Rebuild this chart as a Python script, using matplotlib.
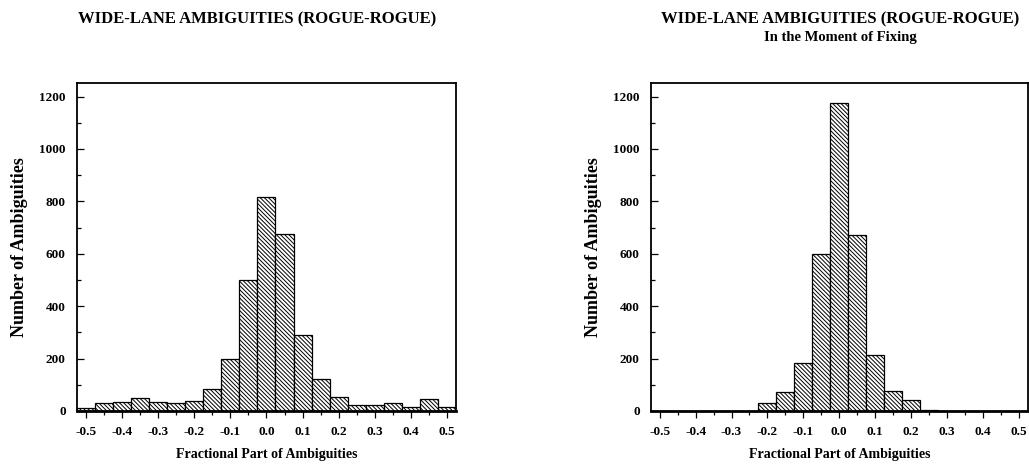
import numpy as np
import matplotlib
matplotlib.use("Agg")
import matplotlib.pyplot as plt
from matplotlib.ticker import MultipleLocator

plt.rcParams['font.family'] = ['Liberation Serif', 'DejaVu Serif']
plt.rcParams['font.weight'] = 'bold'
plt.rcParams['hatch.linewidth'] = 0.7

# bin centres (width 0.05)
centres = np.round(np.arange(-0.5, 0.5001, 0.05), 2)

# all wide-lane ambiguities
counts_all = [10, 29, 36, 48, 36, 32, 39, 83, 197, 500, 818,
              674, 290, 121, 55, 23, 23, 29, 17, 45, 17]
# in the moment of fixing
counts_fix = [0, 0, 0, 0, 0, 0, 29, 71, 183, 600, 1175,
              670, 215, 75, 42, 3, 0, 0, 0, 0, 0]

xticks = [-0.5, -0.4, -0.3, -0.2, -0.1, 0.0, 0.1, 0.2, 0.3, 0.4, 0.5]
xticklabels = ["-0.5", "-0.4", "-0.3", "-0.2", "-0.1", "0.0", "0.1", "0.2", "0.3", "0.4", "0.5"]
yticks = [0, 200, 400, 600, 800, 1000, 1200]

fig = plt.figure(figsize=(10.29, 4.69), dpi=100)
ax1 = fig.add_axes([0.0748, 0.1237, 0.3683, 0.6994])
ax2 = fig.add_axes([0.6324, 0.1237, 0.3664, 0.6994])

for ax, counts in [(ax1, counts_all), (ax2, counts_fix)]:
    ax.bar(centres, counts, width=0.05, color="white", edgecolor="black",
           linewidth=0.9, hatch="\\" * 8)
    ax.set_xlim(-0.525, 0.525)
    ax.set_ylim(0, 1252)
    ax.set_xticks(xticks)
    ax.set_xticklabels(xticklabels)
    ax.set_yticks(yticks)
    ax.xaxis.set_minor_locator(MultipleLocator(0.05))
    ax.yaxis.set_minor_locator(MultipleLocator(100))
    ax.tick_params(axis="x", which="both", direction="out", labelsize=9.5, pad=6)
    ax.tick_params(axis="x", which="major", length=5, width=0.9)
    ax.tick_params(axis="x", which="minor", length=3, width=0.9)
    ax.tick_params(axis="y", which="both", direction="in", labelsize=9.5, pad=8)
    ax.tick_params(axis="y", which="major", length=5, width=0.9)
    ax.tick_params(axis="y", which="minor", length=3, width=0.9)
    for lab in ax.get_xticklabels() + ax.get_yticklabels():
        lab.set_fontweight("bold")
    for s in ["top", "left", "right"]:
        ax.spines[s].set_linewidth(1.3)
    ax.spines["bottom"].set_linewidth(2.0)
    ax.set_xlabel("Fractional Part of Ambiguities", fontsize=10, fontweight="bold", labelpad=7)
    ax.set_ylabel("Number of Ambiguities", fontsize=13, fontweight="bold", labelpad=8)

fig.text(0.25, 0.958, "WIDE-LANE AMBIGUITIES (ROGUE-ROGUE)", ha="center", va="center",
         fontsize=12, fontweight="bold")
fig.text(0.816, 0.958, "WIDE-LANE AMBIGUITIES (ROGUE-ROGUE)", ha="center", va="center",
         fontsize=12, fontweight="bold")
fig.text(0.817, 0.921, "In the Moment of Fixing", ha="center", va="center",
         fontsize=10.5, fontweight="bold")

fig.savefig("out.png", dpi=100)
